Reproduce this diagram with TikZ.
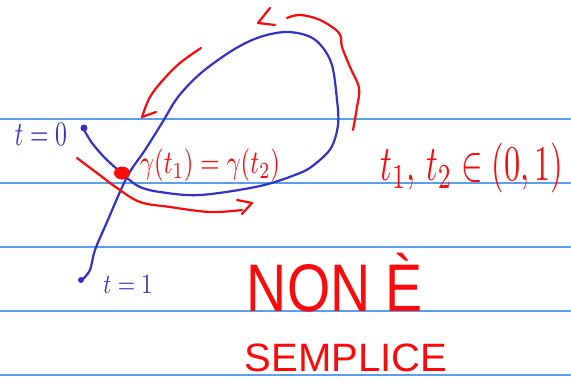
\documentclass[tikz,border=0pt]{standalone}
\usepackage{fontspec}
\usepackage{graphicx}
\usetikzlibrary{shapes.geometric}
\setmainfont{Liberation Sans}
\definecolor{ruled}{RGB}{90,160,235}
\definecolor{penblue}{RGB}{50,50,200}
\definecolor{penred}{RGB}{250,10,10}
\tikzset{
  ruleline/.style={draw=ruled, line width=1.3pt},
  bluepen/.style={draw=penblue, line width=2.2pt, line cap=round, line join=round},
  redpen/.style={draw=penred, line width=2.2pt, line cap=round, line join=round},
  bluetext/.style={text=penblue, inner sep=0pt},
  redtext/.style={text=penred, inner sep=0pt}
}
\begin{document}
\begin{tikzpicture}[x=1pt,y=-1pt]
\fill[white] (0,0) rectangle (571,381);
\useasboundingbox (0,0) rectangle (571,381);
% ruled lines
\foreach \yy in {119,183,247,311,375} {
  \draw[ruleline] (0,\yy) -- (571,\yy);
}
% blue curve
\draw[bluepen] plot[smooth, tension=0.55] coordinates {
 (83,128) (92,143) (105,158) (118,170) (127,178) (140,187) (160,192) (200,195)
 (260,186) (300,173) (315,164) (331,148) (338,125) (337,100) (331,62) (314,39)
 (288,32) (260,37) (233,50) (201,73) (178,97) (162,123) (145,150) (127,177)
 (107,222) (95,250) (90,270) (82,280)};
\node[circle, fill=penblue, inner sep=0pt, minimum size=7pt] (t0dot) at (84,128) {};
\node[circle, fill=penblue, inner sep=0pt, minimum size=6pt] (t1dot) at (81,280) {};
% red intersection dot
\node[ellipse, fill=penred, inner sep=0pt, minimum width=16pt, minimum height=13pt] (cross) at (122,173) {};
% red arrows
\draw[redpen] plot[smooth, tension=0.6] coordinates {(201,48) (180,63) (163,80) (150,97) (142,117)};
\draw[redpen] (142,117) -- (156,112);
\draw[redpen] (270,8) -- (258,23) -- (275,25);
\draw[redpen] plot[smooth, tension=0.6] coordinates {(287,18) (300,15) (320,20) (339,33) (342,47) (350,67) (359,88) (357,107) (353,130)};
\draw[redpen] plot[smooth, tension=0.6] coordinates {(77,158) (97,173) (117,188) (140,202) (170,207) (210,212) (242,210)};
\draw[redpen] (237,200) -- (252,203) -- (242,214);
% texts
\node[bluetext] (tzero) at (41,134) {\resizebox*{52pt}{22pt}{$t=0$}};
\node[bluetext] (tone) at (128,284) {\resizebox*{49pt}{18pt}{$t=1$}};
\node[redtext] (eq) at (210,165) {\resizebox*{140pt}{33pt}{$\gamma(t_1)=\gamma(t_2)$}};
\node[redtext] (dom) at (472,168) {\resizebox*{183pt}{50pt}{$t_1,\,t_2\in(0,1)$}};
\node[redtext] (non) at (335,283) {\resizebox*{176pt}{59pt}{NON \`E}};
\node[redtext] (semp) at (346,358) {\resizebox*{202pt}{28pt}{SEMPLICE}};
\end{tikzpicture}
\end{document}
